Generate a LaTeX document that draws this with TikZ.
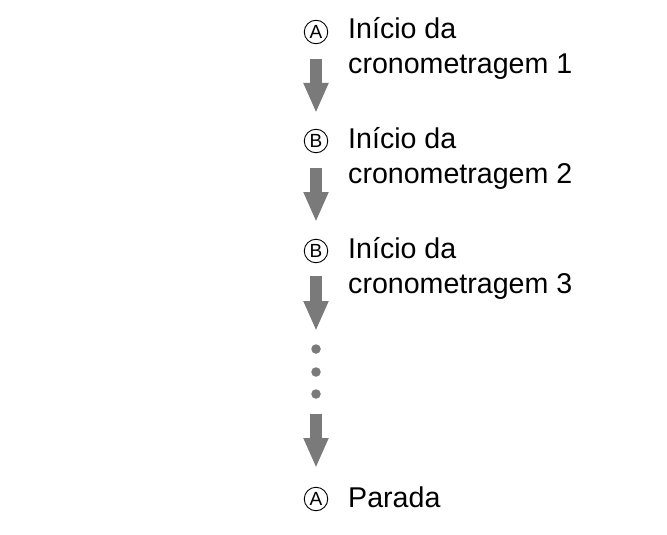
\documentclass[tikz,border=0pt]{standalone}
\usepackage{fontspec}
\setmainfont{Liberation Sans}
\usetikzlibrary{arrows.meta}
\definecolor{arrgray}{HTML}{7A7A7A}
\tikzset{
  mark letter/.style={circle,draw=black,line width=0.9pt,minimum size=23.5pt,inner sep=0pt,font=\fontsize{19}{19}\selectfont},
  label line/.style={anchor=base west,inner sep=0pt,font=\fontsize{28.6}{28.6}\selectfont},
  blockarrow/.style={draw=arrgray,line width=11.5pt,-{Triangle[width=23pt,length=30pt]}},
  dotmark/.style={circle,fill=arrgray,inner sep=0pt,minimum size=9.5pt}
}
\begin{document}
\begin{tikzpicture}[x=1pt,y=-1pt]
\useasboundingbox (0,0) rectangle (667,535);
% markers
\node[mark letter] (m1) at (316,32) {A};
\node[mark letter] (m2) at (316,141) {B};
\node[mark letter] (m3) at (316,251) {B};
\node[mark letter] (m4) at (316,499) {A};
% labels
\node[label line] (t1a) at (348,39) {Início da};
\node[label line] (t1b) at (348,74) {cronometragem 1};
\node[label line] (t2a) at (348,148) {Início da};
\node[label line] (t2b) at (348,183) {cronometragem 2};
\node[label line] (t3a) at (348,258) {Início da};
\node[label line] (t3b) at (348,293) {cronometragem 3};
\node[label line] (t4) at (348,507) {Parada};
% arrow ends
\coordinate (a1s) at (316,59);  \coordinate (a1e) at (316,113);
\coordinate (a2s) at (316,168); \coordinate (a2e) at (316,222);
\coordinate (a3s) at (316,276); \coordinate (a3e) at (316,331);
\coordinate (a4s) at (316,414); \coordinate (a4e) at (316,468);
\draw[blockarrow] (a1s) -- (a1e);
\draw[blockarrow] (a2s) -- (a2e);
\draw[blockarrow] (a3s) -- (a3e);
\draw[blockarrow] (a4s) -- (a4e);
% dots
\node[dotmark] (d1) at (316,349) {};
\node[dotmark] (d2) at (316,372) {};
\node[dotmark] (d3) at (316,394) {};
\end{tikzpicture}
\end{document}
